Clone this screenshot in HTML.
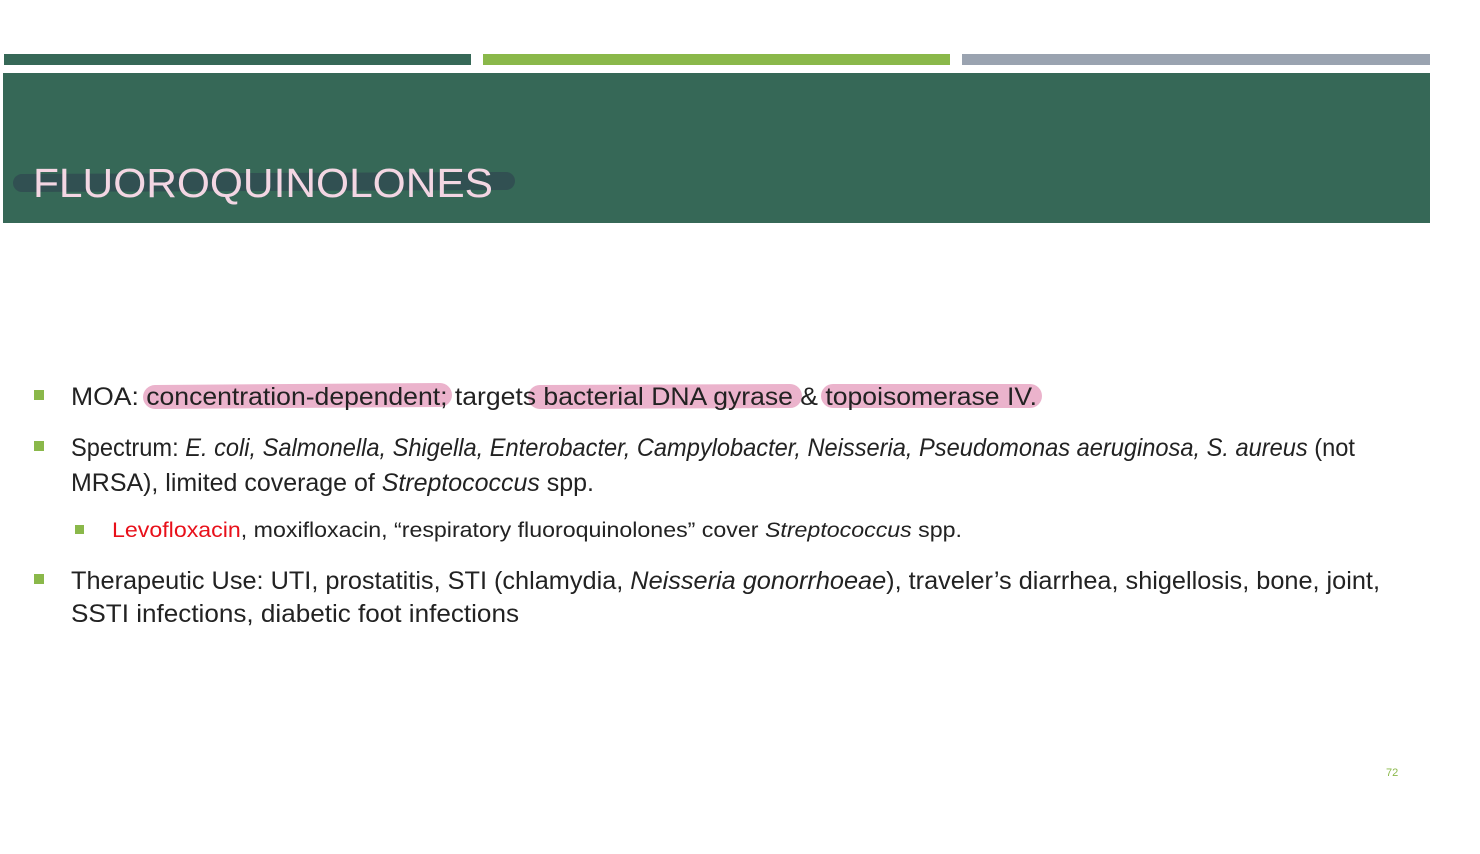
<!DOCTYPE html>
<html><head><meta charset="utf-8"><style>
html,body{margin:0;padding:0;background:#fff;}
svg{display:block;font-family:"Liberation Sans",sans-serif;}
</style></head><body>
<svg width="1480" height="854" viewBox="0 0 1480 854">
<rect x="4" y="54" width="467" height="11" fill="#366857"/>
<rect x="483" y="54" width="467" height="11" fill="#8ab84a"/>
<rect x="962" y="54" width="468" height="11" fill="#9aa3b0"/>
<rect x="3" y="73" width="1427" height="150" fill="#366857"/>
<line x1="22" y1="183" x2="506" y2="181" stroke="#2f4650" stroke-opacity="0.7" stroke-width="18" stroke-linecap="round"/>
<text x="33" y="197" font-size="41" fill="#f3d6e3" textLength="460" lengthAdjust="spacingAndGlyphs">FLUOROQUINOLONES</text>

<g stroke="#e8a6c4" stroke-width="24" stroke-linecap="round" opacity="0.85">
<line x1="155" y1="397" x2="440" y2="395"/>
<line x1="540" y1="397" x2="790" y2="396"/>
<line x1="833" y1="396" x2="1030" y2="396"/>
</g>

<g fill="#8ab84a">
<rect x="34" y="390" width="10" height="10"/>
<rect x="34" y="441" width="10" height="10"/>
<rect x="75" y="525" width="9" height="9"/>
<rect x="34" y="574" width="10" height="10"/>
</g>

<g fill="#222" font-size="25">
<text x="71" y="405" textLength="966" lengthAdjust="spacingAndGlyphs">MOA: concentration-dependent; targets bacterial DNA gyrase &amp; topoisomerase IV.</text>
<text x="71" y="456" textLength="1284" lengthAdjust="spacingAndGlyphs">Spectrum: <tspan font-style="italic">E. coli, Salmonella, Shigella, Enterobacter, Campylobacter, Neisseria, Pseudomonas aeruginosa, S. aureus</tspan> (not</text>
<text x="71" y="491" textLength="523" lengthAdjust="spacingAndGlyphs">MRSA), limited coverage of <tspan font-style="italic">Streptococcus</tspan> spp.</text>
<text x="112" y="537" font-size="21" textLength="850" lengthAdjust="spacingAndGlyphs"><tspan fill="#e8101a">Levofloxacin</tspan>, moxifloxacin, “respiratory fluoroquinolones” cover <tspan font-style="italic">Streptococcus</tspan> spp.</text>
<text x="71" y="589" textLength="1309" lengthAdjust="spacingAndGlyphs">Therapeutic Use: UTI, prostatitis, STI (chlamydia, <tspan font-style="italic">Neisseria gonorrhoeae</tspan>), traveler’s diarrhea, shigellosis, bone, joint,</text>
<text x="71" y="622" textLength="448" lengthAdjust="spacingAndGlyphs">SSTI infections, diabetic foot infections</text>
</g>
<text x="1386" y="776" font-size="11" fill="#8ab84a">72</text>
</svg>
</body></html>
